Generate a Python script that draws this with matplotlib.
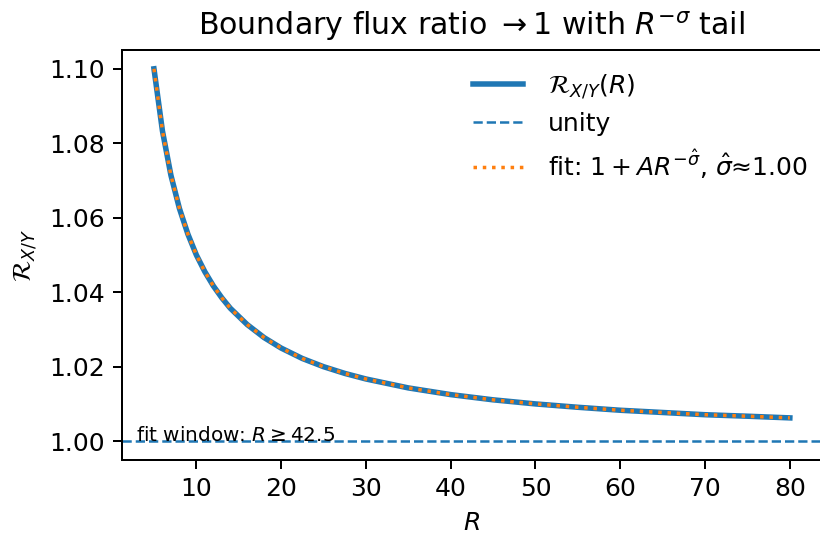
import numpy as np
import matplotlib.pyplot as plt

# values
R = [5, 6, 7, 8, 9, 10, 11, 12, 13, 14, 16, 18, 20, 22.5, 25, 27.5, 30, 35, 40,
     45, 50, 55, 60, 65, 70, 75, 80]
ratio = [1.1000, 1.0833, 1.0714, 1.0625, 1.0556, 1.0500, 1.0455, 1.0417, 1.0385,
         1.0357, 1.0313, 1.0278, 1.0250, 1.0222, 1.0200, 1.0182, 1.0167, 1.0143,
         1.0125, 1.0111, 1.0100, 1.0091, 1.0083, 1.0077, 1.0071, 1.0067, 1.00625]
fit = ratio
fit_start = 42.5

fig = plt.figure(figsize=(820/180, 534/180), dpi=180)
ax = fig.add_axes([0.149, 0.139, 0.853, 0.767])

ax.plot(R, ratio, color='C0', lw=2.2, label=r'$\mathcal{R}_{X/Y}(R)$')
ax.axhline(1.0, color='C0', ls='--', lw=1.0, label='unity')
ax.plot(R, fit, color='C1', ls=':', lw=1.4,
        label=r'fit: $1+AR^{-\hat{\sigma}}$, $\hat{\sigma}$≈1.00')

ax.text(0.02, 0.045, r'fit window: $R \geq %.1f$' % fit_start,
        transform=ax.transAxes, fontsize=8)

ax.set_title(r'Boundary flux ratio $\to 1$ with $R^{-\sigma}$ tail', fontsize=12)
ax.set_xlabel(r'$R$')
ax.set_ylabel(r'$\mathcal{R}_{X/Y}$')
ax.legend(frameon=False, loc='upper right', bbox_to_anchor=(1.012, 1.0),
          handletextpad=1.0, labelspacing=0.45)

fig.savefig('out.png', dpi=180)
